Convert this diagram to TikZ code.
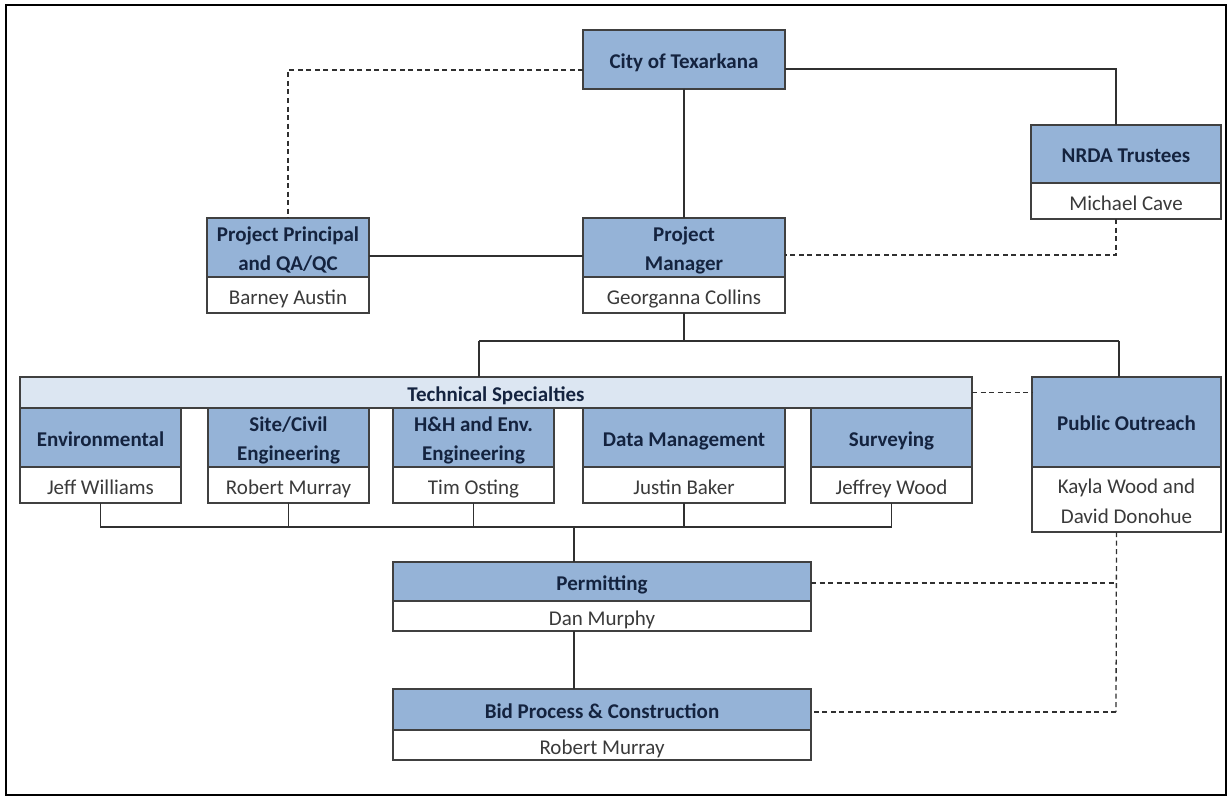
\documentclass[tikz,border=0pt]{standalone}
\usepackage{fontspec}
\setmainfont{Carlito}
\definecolor{hdrfill}{HTML}{95B3D7}
\definecolor{techfill}{HTML}{DCE6F2}
\definecolor{hdrtext}{HTML}{14233F}
\definecolor{bodytext}{HTML}{3A3A3A}
\definecolor{boxline}{HTML}{404040}
\definecolor{linecol}{HTML}{303030}
\newcommand{\lowstrut}{\rule[-0.2\baselineskip]{0pt}{\baselineskip}}
\newcommand{\orgbox}[8]{% name, x1, x2, ytop, ysplit, ybot, header, body
  \node[hdr, anchor=north west, minimum width={(#3-#2)*1pt}, minimum height={(#5-#4)*1pt}] (#1) at (#2,#4) {#7};
  \node[bdy, anchor=north west, minimum width={(#3-#2)*1pt}, minimum height={(#6-#5)*1pt}] (#1b) at (#2,#5) {#8};
}
\begin{document}
\begin{tikzpicture}[x=1pt,y=-1pt,
  hdr/.style={draw=boxline, line width=1.3pt, fill=hdrfill, text=hdrtext,
    font={\bfseries\fontsize{21}{29}\selectfont}, align=center, inner sep=0pt, outer sep=0pt},
  bdy/.style={draw=boxline, line width=1.3pt, fill=white, text=bodytext,
    font={\fontsize{21}{30}\selectfont}, align=center, inner sep=0pt, outer sep=0pt},
  techbar/.style={hdr, fill=techfill},
  conn/.style={line width=1.3pt, draw=linecol},
  dconn/.style={conn, dash pattern=on 5pt off 3.5pt}]
\useasboundingbox (0,0) rectangle (1232,800);
\draw[line width=2pt, black] (6,5) rectangle (1226,795);

% top level
\node[hdr, anchor=north west, minimum width=202pt, minimum height=59pt] (city) at (583,30) {\lowstrut City of Texarkana};
\orgbox{pm}{583}{785}{218}{277}{313}{\lowstrut Project\\\lowstrut Manager}{\lowstrut Georganna Collins}
\orgbox{pp}{207}{369}{218}{277}{313}{\lowstrut Project Principal\\\lowstrut and QA/QC}{\lowstrut Barney Austin}
\orgbox{nrda}{1031}{1221}{125}{183}{219}{\lowstrut NRDA Trustees}{\lowstrut Michael Cave}

% technical specialties
\node[techbar, anchor=north west, minimum width=952pt, minimum height=31pt] (tech) at (20,377) {\lowstrut Technical Specialties};
\orgbox{env}{20}{181}{408}{467}{503}{\lowstrut Environmental}{\lowstrut Jeff Williams}
\orgbox{site}{208}{369}{408}{467}{503}{\lowstrut Site/Civil\\\lowstrut Engineering}{\lowstrut Robert Murray}
\orgbox{hh}{393}{554}{408}{467}{503}{\lowstrut H\&H and Env.\\\lowstrut Engineering}{\lowstrut Tim Osting}
\orgbox{dm}{583}{785}{408}{467}{503}{\lowstrut Data Management}{\lowstrut Justin Baker}
\orgbox{surv}{811}{972}{408}{467}{503}{\lowstrut Surveying}{\lowstrut Jeffrey Wood}
\orgbox{po}{1032}{1221}{377}{467}{532}{\lowstrut Public Outreach}{\lowstrut Kayla Wood and\\\lowstrut David Donohue}

% lower
\orgbox{perm}{393}{811}{562}{601}{630}{\lowstrut Permitting}{\lowstrut Dan Murphy}
\orgbox{bid}{393}{811}{689}{730}{759}{\lowstrut Bid Process \& Construction}{\lowstrut Robert Murray}

% coordinates
\coordinate (bl) at (479,341);
\coordinate (brr) at (1119,341);
\coordinate (bus) at (574,527);
\coordinate (poline) at (1116,712);

% connectors
\draw[conn] (city.south) -- (pm.north);
\draw[conn] ([yshift=-9.5pt]city.east) -| ([xshift=-10pt]nrda.north);
\draw[dconn] ([yshift=-10.5pt]city.west) -| (pp.north);
\draw[conn] ([yshift=-8.5pt]pp.east) -- ([yshift=-8.5pt]pp.east -| pm.west);
\draw[dconn] ([xshift=-10pt]nrdab.south) |- ([yshift=-7.5pt]pm.east);

\draw[conn] (pmb.south) -- (pmb.south |- bl);
\draw[conn] (bl) -- (brr);
\draw[conn] (bl) -- (bl |- tech.north);
\draw[conn] (brr) -- (brr |- po.north);
\draw[dconn] (tech.east) -- (tech.east -| po.west);

\draw[conn] (envb.south) |- (bus -| survb.south) -- (survb.south);
\draw[conn] (siteb.south) -- (siteb.south |- bus);
\draw[conn] (hhb.south) -- (hhb.south |- bus);
\draw[conn] (dmb.south) -- (dmb.south |- bus);
\draw[conn] (bus) -- (bus |- perm.north);
\draw[conn] (bus |- permb.south) -- (bus |- bid.north);

\draw[dconn] ([xshift=-10pt]pob.south) -- (poline);
\draw[dconn] ([yshift=-1.5pt]perm.east) -- ([yshift=-1.5pt]perm.east -| poline);
\draw[dconn] (poline) -- (poline -| bid.east);
\end{tikzpicture}
\end{document}
